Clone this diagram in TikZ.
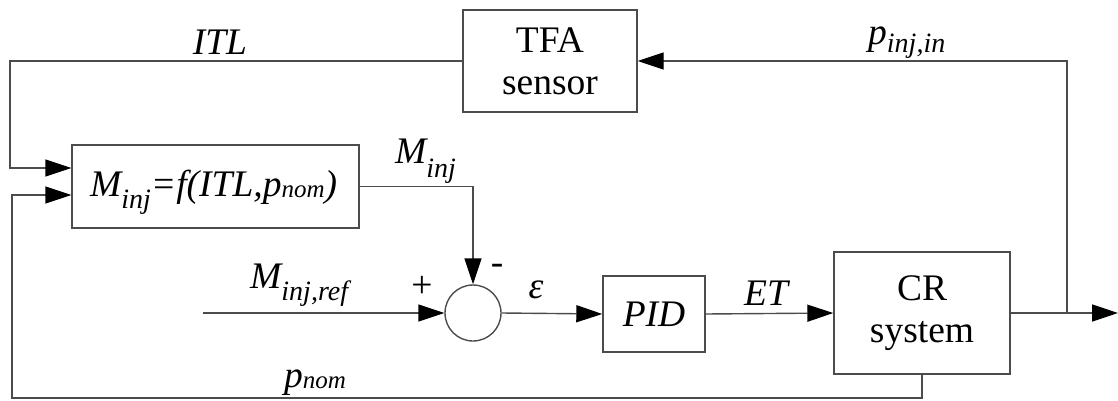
\documentclass[tikz,border=0pt]{standalone}
\usepackage{fontspec}
\setmainfont{Liberation Serif}
\usetikzlibrary{arrows.meta}
\newcommand\sbs[2][13]{\raisebox{-#1pt}{\fontsize{28}{28}\selectfont #2}}
\newcommand\sbn[2][1]{\raisebox{-#1pt}{\fontsize{25}{25}\selectfont #2}}
\begin{document}
\begin{tikzpicture}[x=1pt,y=-1pt,
  txt/.style={font=\fontsize{37.5}{42}\selectfont, text=black},
  blk/.style={draw=black!70, line width=1.4pt, fill=white, inner sep=0pt, txt, align=center},
  lbl/.style={inner sep=0pt, txt},
  conn/.style={draw=black!70, line width=1.4pt, -{Triangle[length=26pt,width=17pt,color=black]}},
  wire/.style={draw=black!70, line width=1.4pt}]
\useasboundingbox (0,0) rectangle (1118,401);
% blocks
\node[blk, minimum width=174pt, minimum height=102pt] (tfa) at (550,61) {TFA\\sensor};
\node[blk, minimum width=287pt, minimum height=83pt] (mbox) at (215.5,186.5) {};
\node[lbl, anchor=base west] (ftxt) at (90,196) {\itshape M\sbs[12]{inj}=f(ITL,p\sbn{nom})};
\node[draw=black!70, line width=1.4pt, circle, minimum size=56pt, inner sep=0pt] (sum) at (473,313) {};
\node[blk, minimum width=102pt, minimum height=76pt] (pid) at (654,314) {\itshape PID};
\node[blk, minimum width=176pt, minimum height=122pt] (cr) at (922,313) {CR\\system};
% free ends
\coordinate (lt) at (10,61);
\coordinate (lb) at (12,398);
\coordinate (ref) at (203,313);
\coordinate (out) at (1118,313);
\coordinate (br) at (1067,313);
% connectors
\draw[conn] (tfa.west) -- (lt) |- ([yshift=18.5pt]mbox.west);
\draw[conn] (cr.south) -- (cr.south|-lb) -- (lb) |- ([yshift=-8.5pt]mbox.west);
\draw[conn] (mbox.east) -| (sum.north);
\draw[conn] (ref) -- (sum.west);
\draw[conn] (sum.east) -- (pid.west);
\draw[conn] (pid.east) -- (cr.west);
\draw[conn] (cr.east) -- (out);
\draw[conn] (br) |- (tfa.east);
% labels
\node[lbl, anchor=base] (litl) at (220,55) {\itshape ITL};
\node[lbl, anchor=base west] (lpin) at (868,45) {\itshape p\sbs[8]{inj,in}};
\node[lbl, anchor=base west] (lminj) at (395,163) {\itshape M\sbs[14]{inj}};
\node[lbl, anchor=base west] (lmref) at (250,288) {\itshape M\sbs[12]{inj,ref}};
\node[lbl] (lplus) at (422,287) {+};
\node[lbl] (lminus) at (497,269) {-};
\node[lbl, anchor=base] (leps) at (536,298) {\itshape ε};
\node[lbl, anchor=base] (let) at (766,305) {\itshape ET};
\node[lbl, anchor=base west] (lpnom) at (284,387) {\itshape p\sbn{nom}};
\end{tikzpicture}
\end{document}
